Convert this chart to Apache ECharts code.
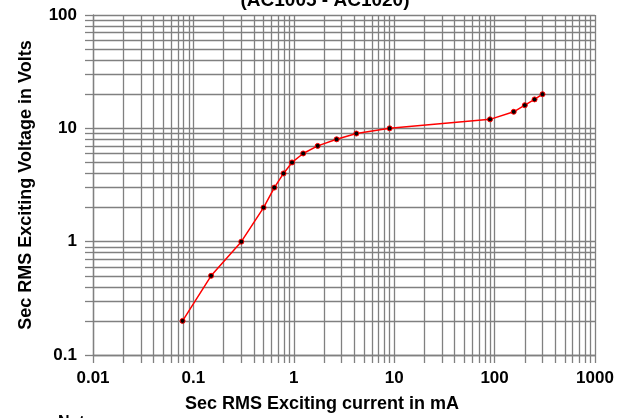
<!DOCTYPE html>
<html>
<head>
<meta charset="utf-8">
<script src="https://cdn.jsdelivr.net/npm/echarts@6/dist/echarts.min.js"></script>
<style>
  html, body { margin: 0; padding: 0; background: #fff; }
  #chart { width: 631px; height: 418px; }
</style>
</head>
<body>
<div id="chart"></div>
<script>
// exciting current (mA) and voltage (V)
const currentMa = [0.078, 0.15, 0.3, 0.5, 0.64, 0.79, 0.96, 1.24, 1.73, 2.67, 4.2, 9, 90, 155, 200, 250, 300];
const voltageV = [0.2, 0.5, 1, 2, 3, 4, 5, 6, 7, 8, 9, 10, 12, 14, 16, 18, 20];

const font = '"Liberation Sans", Arial, sans-serif';
const gridColor = '#808080';

const points = currentMa.map((c, i) => [c, voltageV[i]]);

const chart = echarts.init(document.getElementById('chart'));
const option = {
  animation: false,
  backgroundColor: '#fff',
  title: [
    {
      text: '(AC1005 - AC1020)',
      left: 320,
      top: -14,
      textAlign: 'center',
      textStyle: { fontFamily: font, fontSize: 19, fontWeight: 'bold', color: '#000' }
    },
    {
      text: 'Note:',
      left: 53,
      top: 410,
      textStyle: { fontFamily: font, fontSize: 16, fontWeight: 'bold', color: '#000' }
    }
  ],
  grid: { left: 93, right: 36, top: 15, bottom: 60 },
  xAxis: {
    type: 'log',
    logBase: 10,
    min: 0.01,
    max: 1000,
    name: 'Sec RMS Exciting current in mA',
    nameLocation: 'middle',
    nameGap: 40,
    nameTextStyle: { fontFamily: font, fontSize: 18, fontWeight: 'bold', color: '#000', padding: [0, 44, 0, 0] },
    axisLine: { show: true, lineStyle: { color: gridColor, width: 1.3 } },
    axisTick: { show: true, inside: false, length: 8, lineStyle: { color: gridColor, width: 1.3 } },
    minorTick: { show: true, splitNumber: 9, length: 8, lineStyle: { color: gridColor, width: 1.3 } },
    splitLine: { show: true, lineStyle: { color: gridColor, width: 1.3 } },
    minorSplitLine: { show: true, lineStyle: { color: gridColor, width: 1.3 } },
    axisLabel: {
      margin: 15,
      fontFamily: font, fontSize: 17, fontWeight: 'bold', color: '#000',
      formatter: v => String(v)
    }
  },
  yAxis: {
    type: 'log',
    logBase: 10,
    min: 0.1,
    max: 100,
    name: 'Sec RMS Exciting Voltage in Volts',
    nameLocation: 'middle',
    nameGap: 58,
    nameTextStyle: { fontFamily: font, fontSize: 18, fontWeight: 'bold', color: '#000' },
    axisLine: { show: true, lineStyle: { color: gridColor, width: 1.3 } },
    axisTick: { show: true, inside: false, length: 8, lineStyle: { color: gridColor, width: 1.3 } },
    minorTick: { show: true, splitNumber: 9, length: 8, lineStyle: { color: gridColor, width: 1.3 } },
    splitLine: { show: true, lineStyle: { color: gridColor, width: 1.3 } },
    minorSplitLine: { show: true, lineStyle: { color: gridColor, width: 1.3 } },
    axisLabel: {
      margin: 16,
      fontFamily: font, fontSize: 17, fontWeight: 'bold', color: '#000',
      formatter: v => String(v)
    }
  },
  series: [
    {
      type: 'line',
      data: points,
      symbol: 'circle',
      symbolSize: 5,
      lineStyle: { color: '#ff0000', width: 1.5 },
      itemStyle: { color: '#000', borderColor: '#ff0000', borderWidth: 1 },
      z: 5
    }
  ]
};
chart.setOption(option);
</script>
</body>
</html>
